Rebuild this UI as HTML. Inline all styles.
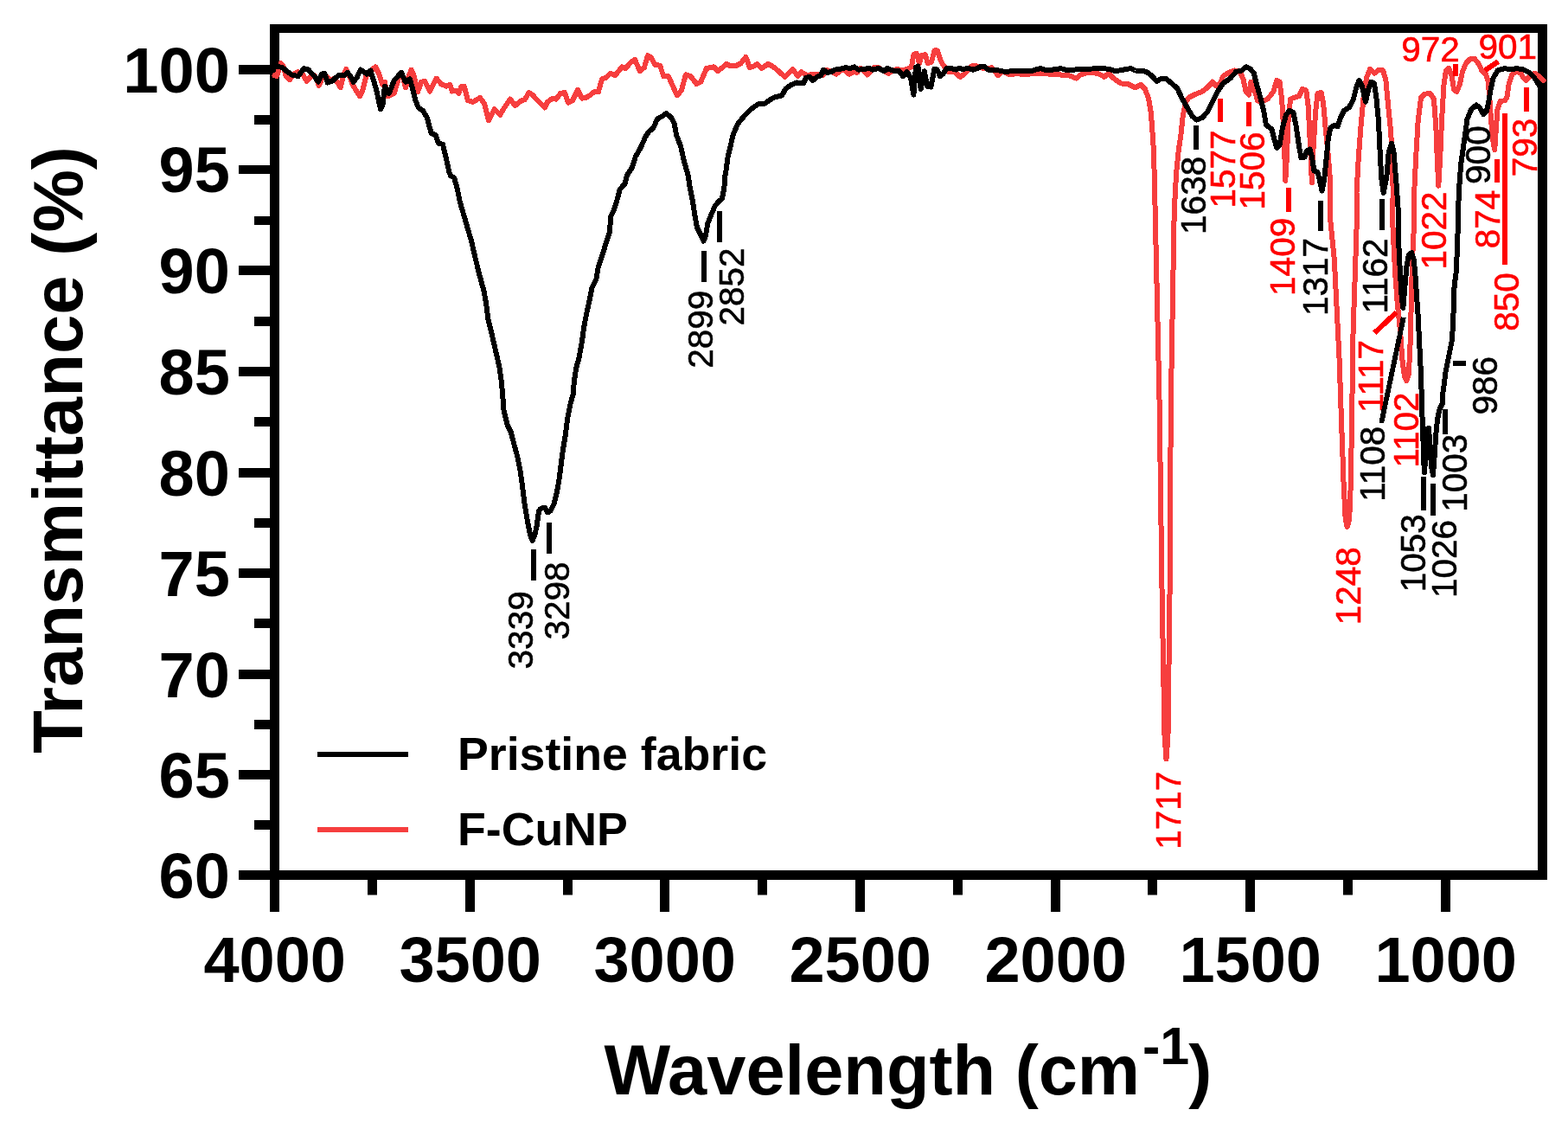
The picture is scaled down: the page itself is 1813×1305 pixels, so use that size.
<!DOCTYPE html>
<html><head><meta charset="utf-8"><title>FTIR</title>
<style>html,body{margin:0;padding:0;background:#fff}svg{display:block}text{font-family:"Liberation Sans",Arial,sans-serif}.b{font-weight:bold}</style></head><body>
<svg width="1813" height="1305" viewBox="0 0 1813 1305">
<rect width="1813" height="1305" fill="#fff"/>
<path d="M312 28H1789V1017H312Z M323 38V1006H1778V38Z" fill="#000" fill-rule="evenodd"/>
<line x1="276" x2="313" y1="1011.5" y2="1011.5" stroke="#000" stroke-width="11"/>
<text class="b" x="265.8" y="1037.9" font-size="74" text-anchor="end">60</text>
<line x1="276" x2="313" y1="895.5" y2="895.5" stroke="#000" stroke-width="11"/>
<text class="b" x="265.8" y="921.9" font-size="74" text-anchor="end">65</text>
<line x1="276" x2="313" y1="779.5" y2="779.5" stroke="#000" stroke-width="11"/>
<text class="b" x="265.8" y="805.9" font-size="74" text-anchor="end">70</text>
<line x1="276" x2="313" y1="662.5" y2="662.5" stroke="#000" stroke-width="11"/>
<text class="b" x="265.8" y="688.9" font-size="74" text-anchor="end">75</text>
<line x1="276" x2="313" y1="546.5" y2="546.5" stroke="#000" stroke-width="11"/>
<text class="b" x="265.8" y="572.9" font-size="74" text-anchor="end">80</text>
<line x1="276" x2="313" y1="429.5" y2="429.5" stroke="#000" stroke-width="11"/>
<text class="b" x="265.8" y="455.9" font-size="74" text-anchor="end">85</text>
<line x1="276" x2="313" y1="312.5" y2="312.5" stroke="#000" stroke-width="11"/>
<text class="b" x="265.8" y="338.9" font-size="74" text-anchor="end">90</text>
<line x1="276" x2="313" y1="196.0" y2="196.0" stroke="#000" stroke-width="10"/>
<text class="b" x="265.8" y="222.4" font-size="74" text-anchor="end">95</text>
<line x1="276" x2="313" y1="80.5" y2="80.5" stroke="#000" stroke-width="11"/>
<text class="b" x="265.8" y="106.9" font-size="74" text-anchor="end">100</text>
<line x1="294" x2="313" y1="953.5" y2="953.5" stroke="#000" stroke-width="11"/>
<line x1="294" x2="313" y1="837.5" y2="837.5" stroke="#000" stroke-width="11"/>
<line x1="294" x2="313" y1="720.5" y2="720.5" stroke="#000" stroke-width="11"/>
<line x1="294" x2="313" y1="604.5" y2="604.5" stroke="#000" stroke-width="11"/>
<line x1="294" x2="313" y1="487.5" y2="487.5" stroke="#000" stroke-width="11"/>
<line x1="294" x2="313" y1="371.5" y2="371.5" stroke="#000" stroke-width="11"/>
<line x1="294" x2="313" y1="255.0" y2="255.0" stroke="#000" stroke-width="10"/>
<line x1="294" x2="313" y1="138.5" y2="138.5" stroke="#000" stroke-width="11"/>
<line x1="317.5" x2="317.5" y1="1016" y2="1054" stroke="#000" stroke-width="11"/>
<text class="b" x="317.7" y="1134.8" font-size="74" text-anchor="middle">4000</text>
<line x1="543.5" x2="543.5" y1="1016" y2="1054" stroke="#000" stroke-width="11"/>
<text class="b" x="543.7" y="1134.8" font-size="74" text-anchor="middle">3500</text>
<line x1="768.5" x2="768.5" y1="1016" y2="1054" stroke="#000" stroke-width="11"/>
<text class="b" x="768.7" y="1134.8" font-size="74" text-anchor="middle">3000</text>
<line x1="994.5" x2="994.5" y1="1016" y2="1054" stroke="#000" stroke-width="11"/>
<text class="b" x="994.7" y="1134.8" font-size="74" text-anchor="middle">2500</text>
<line x1="1220.5" x2="1220.5" y1="1016" y2="1054" stroke="#000" stroke-width="11"/>
<text class="b" x="1220.7" y="1134.8" font-size="74" text-anchor="middle">2000</text>
<line x1="1445.5" x2="1445.5" y1="1016" y2="1054" stroke="#000" stroke-width="11"/>
<text class="b" x="1445.7" y="1134.8" font-size="74" text-anchor="middle">1500</text>
<line x1="1671.5" x2="1671.5" y1="1016" y2="1054" stroke="#000" stroke-width="11"/>
<text class="b" x="1671.7" y="1134.8" font-size="74" text-anchor="middle">1000</text>
<line x1="430.5" x2="430.5" y1="1016" y2="1034.5" stroke="#000" stroke-width="11"/>
<line x1="656.5" x2="656.5" y1="1016" y2="1034.5" stroke="#000" stroke-width="11"/>
<line x1="881.5" x2="881.5" y1="1016" y2="1034.5" stroke="#000" stroke-width="11"/>
<line x1="1107.5" x2="1107.5" y1="1016" y2="1034.5" stroke="#000" stroke-width="11"/>
<line x1="1332.5" x2="1332.5" y1="1016" y2="1034.5" stroke="#000" stroke-width="11"/>
<line x1="1558.5" x2="1558.5" y1="1016" y2="1034.5" stroke="#000" stroke-width="11"/>
<path d="M317.5 87.3 L319.9 88.1 L324.9 73.2 L327.4 76.5 L330.7 88.1 L334.8 92.2 L339.8 85.6 L344.8 83.1 L349.7 85.6 L354.7 93.9 L359.7 88.1 L363.8 87.3 L368.8 98.8 L372.9 89.7 L377.9 88.9 L382.0 93.0 L386.2 90.6 L391.1 96.4 L393.6 101.3 L396.9 88.1 L400.2 79.8 L403.5 86.4 L407.7 98.0 L416.0 111.3 L419.3 104.6 L423.4 88.1 L429.2 81.5 L434.2 77.3 L438.3 85.6 L442.5 98.0 L444.9 94.7 L448.2 111.3 L455.7 107.9 L460.7 91.4 L464.0 83.9 L466.5 91.4 L468.9 101.3 L473.1 86.4 L475.6 80.6 L478.9 88.1 L483.0 106.3 L487.2 94.7 L491.3 93.9 L497.1 105.5 L504.5 90.6 L510.3 97.2 L516.1 99.7 L520.3 98.0 L522.7 105.5 L526.9 104.6 L530.2 107.9 L533.5 99.7 L536.8 99.7 L541.0 116.2 L546.8 117.9 L555.0 112.9 L560.0 119.5 L565.0 139.4 L571.6 126.2 L578.2 132.8 L583.2 124.5 L589.8 114.6 L595.6 122.0 L603.0 116.2 L606.6 115.4 L611.6 107.1 L615.7 109.6 L619.9 114.6 L624.8 119.5 L629.8 124.5 L633.1 117.9 L638.9 113.7 L643.0 114.6 L648.0 107.9 L653.0 107.1 L657.1 118.7 L662.1 116.2 L667.9 103.8 L672.8 113.7 L677.8 112.9 L682.8 109.6 L686.9 106.3 L691.9 106.3 L696.0 91.4 L701.0 89.7 L706.0 84.8 L710.9 87.3 L715.9 81.5 L719.2 77.3 L723.3 79.0 L729.1 72.4 L734.1 69.0 L739.9 82.3 L744.9 78.1 L749.0 64.1 L753.1 66.6 L757.3 74.8 L763.1 75.7 L767.2 88.1 L773.0 88.1 L778.0 99.7 L782.9 110.4 L787.9 104.6 L792.9 86.4 L798.7 88.1 L805.3 97.2 L810.3 94.7 L816.9 79.0 L825.2 77.3 L830.1 82.3 L835.1 78.1 L840.1 74.0 L845.0 76.5 L851.7 75.7 L856.6 73.2 L862.4 65.7 L866.6 78.1 L871.5 76.5 L875.7 74.0 L880.6 79.0 L888.1 74.0 L893.0 76.5 L895.0 78.1 L896.6 79.0 L907.4 88.9 L916.5 79.8 L922.3 88.1 L926.4 83.1 L933.0 87.3 L939.7 85.6 L946.3 85.6 L951.3 87.3 L954.6 80.6 L959.5 82.3 L967.0 85.6 L972.8 80.6 L976.9 81.5 L981.9 85.6 L986.9 83.1 L991.0 83.9 L995.1 79.0 L999.3 82.3 L1002.6 86.4 L1005.9 83.9 L1010.9 78.1 L1015.8 78.1 L1022.5 82.3 L1027.4 84.8 L1032.4 81.5 L1037.4 79.8 L1044.0 81.5 L1048.9 79.8 L1053.9 77.3 L1056.4 63.2 L1059.7 61.6 L1063.0 73.2 L1065.5 64.1 L1069.6 63.2 L1072.9 73.2 L1077.1 71.5 L1080.4 58.3 L1083.7 58.3 L1087.0 68.2 L1090.3 74.8 L1097.0 83.1 L1103.6 83.1 L1110.2 88.9 L1116.0 84.8 L1120.1 79.0 L1125.1 75.7 L1130.1 76.5 L1136.7 79.0 L1143.3 79.0 L1146.6 78.1 L1154.1 87.3 L1159.0 82.3 L1168.1 86.4 L1176.4 84.8 L1180.0 85.6 L1189.9 85.6 L1198.2 84.8 L1204.8 84.8 L1213.1 85.6 L1223.0 85.6 L1229.7 87.3 L1236.3 87.3 L1244.6 90.6 L1249.5 86.4 L1257.8 83.9 L1264.4 83.9 L1271.1 85.6 L1276.9 88.9 L1281.8 84.8 L1287.6 90.6 L1295.9 96.4 L1304.2 97.2 L1312.5 101.3 L1319.1 98.0 L1324.0 103.0 L1328.2 114.6 L1330.7 129.5 L1332.3 149.3 L1334.0 175.8 L1335.0 215.0 L1335.8 250.0 L1340.6 466.0 L1343.5 680.0 L1346.5 850.0 L1348.5 877.5 L1350.5 850.0 L1352.6 680.0 L1353.8 466.0 L1357.5 256.0 L1358.8 222.1 L1360.4 197.3 L1362.9 172.5 L1365.4 155.9 L1367.9 132.7 L1371.2 117.8 L1374.5 112.8 L1382.8 108.7 L1389.4 106.2 L1396.0 101.3 L1401.8 94.6 L1406.8 99.6 L1410.9 96.3 L1414.2 88.0 L1420.9 83.9 L1427.5 81.4 L1434.1 83.9 L1437.4 91.3 L1440.7 106.2 L1444.0 109.5 L1446.5 94.6 L1449.8 101.3 L1454.0 116.2 L1458.9 117.8 L1465.6 114.5 L1472.2 106.2 L1476.3 93.0 L1479.6 94.6 L1482.1 114.5 L1484.6 155.9 L1486.3 208.9 L1487.9 180.7 L1489.6 139.3 L1492.1 114.5 L1497.0 112.8 L1502.0 111.2 L1506.1 102.9 L1510.3 104.6 L1512.7 122.8 L1515.2 172.5 L1516.9 211.4 L1518.5 172.5 L1521.0 131.1 L1523.5 107.9 L1527.6 107.1 L1530.1 119.5 L1532.6 147.6 L1535.9 180.7 L1538.4 213.8 L1537.8 250.0 L1542.8 299.7 L1546.1 365.9 L1548.6 415.6 L1550.3 466.0 L1553.6 559.3 L1555.7 600.7 L1557.7 609.0 L1560.2 600.7 L1561.8 559.3 L1563.4 466.0 L1564.1 399.0 L1565.7 349.3 L1567.4 299.7 L1569.0 250.0 L1568.5 222.1 L1570.9 180.7 L1573.4 147.6 L1576.7 111.2 L1580.1 89.7 L1584.2 79.7 L1589.2 84.7 L1594.1 80.6 L1599.1 81.4 L1602.4 93.0 L1604.9 119.5 L1608.2 152.6 L1609.9 189.0 L1610.7 222.1 L1609.9 250.0 L1611.5 283.1 L1613.2 316.2 L1615.6 349.3 L1619.0 382.5 L1621.4 415.6 L1623.9 435.4 L1626.4 440.4 L1628.9 432.1 L1630.5 399.0 L1631.4 365.9 L1632.2 332.8 L1633.0 299.7 L1634.7 266.6 L1635.2 222.1 L1637.2 180.7 L1639.7 139.3 L1643.0 112.8 L1647.1 108.7 L1653.7 107.9 L1657.9 114.5 L1660.4 147.6 L1662.0 189.0 L1663.3 214.7 L1665.3 180.7 L1667.0 139.3 L1669.5 97.9 L1671.9 81.4 L1675.3 78.9 L1678.6 88.0 L1681.0 102.9 L1684.4 106.2 L1687.7 97.9 L1691.0 83.0 L1695.1 73.1 L1700.1 68.1 L1705.1 68.1 L1709.2 73.1 L1713.3 81.4 L1718.3 86.4 L1720.8 94.6 L1722.4 114.5 L1724.1 139.3 L1726.6 164.2 L1728.2 173.3 L1729.9 147.6 L1731.5 126.1 L1734.9 117.0 L1739.8 116.2 L1742.3 112.8 L1744.8 96.3 L1748.1 86.4 L1752.2 83.0 L1758.0 83.9 L1761.3 89.7 L1764.7 93.0 L1768.8 88.0 L1774.6 84.7 L1781.2 89.7 L1784.5 93.0" fill="none" stroke="#f63e3e" stroke-width="6" stroke-linejoin="round" stroke-linecap="round" shape-rendering="crispEdges"/>
<path d="M319.9 76.5 L326.6 78.1 L331.5 82.3 L337.3 86.4 L344.8 88.1 L351.4 79.0 L356.4 80.6 L363.0 87.3 L367.9 94.7 L372.1 85.6 L375.4 85.1 L378.7 95.5 L384.5 93.4 L391.1 87.3 L397.7 87.3 L401.9 83.9 L405.2 88.1 L408.5 94.7 L412.6 89.7 L416.8 80.6 L420.9 83.1 L424.2 85.6 L428.4 81.5 L430.9 89.7 L435.0 103.0 L440.0 126.2 L442.5 121.2 L444.9 99.7 L449.9 107.9 L455.7 93.0 L464.0 83.9 L468.9 94.7 L473.9 91.4 L477.2 103.0 L480.5 116.2 L483.8 124.5 L488.8 127.8 L493.8 136.1 L498.7 154.3 L503.7 156.0 L507.0 165.9 L512.0 166.7 L515.3 180.8 L519.4 199.0 L521.1 203.1 L525.2 205.6 L528.5 217.2 L531.9 233.8 L536.8 250.3 L541.0 265.2 L544.5 276.4 L549.5 297.9 L554.4 317.8 L559.4 336.0 L561.9 349.3 L564.4 369.1 L569.3 389.0 L573.5 407.2 L577.6 425.4 L580.1 443.6 L580.6 450.0 L582.6 474.8 L586.7 491.4 L590.9 499.7 L594.2 512.9 L598.3 527.8 L601.6 544.4 L604.1 562.6 L606.6 582.5 L609.9 602.3 L613.2 618.9 L615.7 624.7 L618.2 618.9 L620.7 607.3 L623.1 590.7 L624.8 588.2 L629.8 586.6 L633.1 592.4 L636.4 590.7 L640.5 582.5 L643.8 569.2 L646.3 556.0 L648.0 542.7 L650.5 522.8 L653.8 503.0 L656.3 483.1 L659.6 466.6 L662.9 455.0 L663.7 442.0 L666.2 425.4 L669.5 413.8 L672.8 395.6 L675.3 377.4 L678.9 359.2 L681.9 346.0 L684.4 332.7 L689.4 322.8 L691.9 307.9 L696.0 296.3 L700.1 283.0 L705.1 268.1 L706.0 250.3 L710.1 242.1 L714.2 228.8 L716.7 218.9 L722.5 212.3 L725.0 202.3 L730.8 194.0 L734.9 180.8 L740.7 170.9 L746.5 157.6 L750.7 151.8 L755.6 147.7 L759.8 137.7 L765.6 134.4 L770.5 131.1 L776.3 136.1 L779.6 142.7 L782.1 156.0 L787.1 169.2 L790.4 184.1 L795.4 202.3 L795.2 200.0 L797.7 216.6 L801.0 233.1 L803.5 249.7 L806.0 262.9 L810.1 271.2 L813.4 278.6 L815.9 272.8 L818.4 257.9 L821.7 249.7 L826.7 238.1 L830.8 233.1 L834.9 229.8 L837.4 216.6 L838.7 200.0 L839.2 199.0 L841.7 180.8 L844.2 170.9 L847.5 156.0 L853.3 142.7 L861.6 132.8 L868.2 126.2 L876.5 120.4 L884.8 119.5 L891.4 114.6 L896.6 112.1 L904.1 110.4 L908.2 103.0 L914.8 98.0 L921.5 95.5 L928.9 96.4 L932.2 89.7 L936.4 88.9 L939.7 93.0 L944.6 88.9 L948.8 87.3 L952.1 80.6 L956.2 83.9 L961.2 83.1 L965.3 80.6 L971.1 79.8 L977.7 78.1 L982.7 79.0 L987.7 77.3 L992.6 80.6 L999.3 80.1 L1004.2 78.5 L1009.2 80.6 L1015.8 79.0 L1022.5 82.3 L1025.8 79.0 L1032.4 81.5 L1039.0 81.5 L1044.0 88.1 L1048.9 83.1 L1053.1 90.6 L1056.4 109.6 L1058.9 78.1 L1061.4 76.5 L1064.7 103.0 L1068.8 82.3 L1072.1 99.7 L1076.3 100.5 L1080.4 79.8 L1083.7 80.6 L1087.0 88.1 L1090.3 85.6 L1094.5 79.0 L1100.3 79.0 L1105.2 80.6 L1108.5 79.0 L1113.5 79.8 L1120.1 79.0 L1125.1 80.6 L1130.1 79.0 L1135.0 76.5 L1138.3 76.8 L1142.5 80.6 L1148.3 80.6 L1154.9 81.5 L1163.2 83.1 L1171.5 81.8 L1181.4 82.3 L1191.6 82.3 L1203.2 79.0 L1209.8 81.5 L1223.0 79.8 L1226.4 79.0 L1234.6 81.5 L1249.5 79.8 L1262.8 79.5 L1272.7 79.0 L1282.6 79.8 L1289.3 82.3 L1299.2 80.6 L1307.5 79.0 L1312.5 81.5 L1320.7 81.5 L1325.7 83.1 L1332.3 88.1 L1337.3 93.9 L1343.1 90.6 L1348.9 91.4 L1354.6 96.3 L1361.3 102.1 L1366.2 112.8 L1372.8 124.4 L1378.6 134.4 L1383.6 138.5 L1390.2 136.0 L1396.0 129.4 L1401.8 117.8 L1407.6 106.2 L1414.2 96.3 L1422.5 90.5 L1429.1 83.0 L1435.8 81.4 L1440.7 77.3 L1445.7 79.7 L1449.8 84.7 L1453.1 97.9 L1457.3 112.8 L1461.4 129.4 L1463.9 144.3 L1470.5 149.3 L1473.8 162.5 L1476.3 170.8 L1479.6 167.5 L1482.9 147.6 L1487.1 132.7 L1491.2 127.7 L1495.4 130.2 L1498.7 146.0 L1502.0 169.1 L1504.5 182.4 L1508.6 181.6 L1511.1 174.1 L1514.4 172.5 L1516.9 180.7 L1519.4 197.3 L1523.5 198.9 L1526.0 208.9 L1528.5 220.5 L1531.0 208.9 L1533.4 185.7 L1535.9 159.2 L1538.4 147.6 L1542.5 145.1 L1546.7 146.0 L1550.0 136.0 L1554.1 127.7 L1559.9 124.4 L1564.9 114.5 L1568.2 101.3 L1571.5 93.0 L1574.8 99.6 L1579.0 117.8 L1582.3 102.9 L1585.6 94.6 L1588.9 96.3 L1591.4 112.8 L1593.9 139.3 L1595.5 172.5 L1597.2 205.6 L1599.7 222.9 L1603.2 205.6 L1605.7 175.8 L1609.0 165.8 L1611.5 175.8 L1614.0 205.6 L1616.5 238.7 L1617.3 283.1 L1619.0 316.2 L1620.6 342.7 L1622.3 356.0 L1624.3 332.8 L1626.4 307.9 L1628.9 294.7 L1632.2 292.2 L1634.7 299.7 L1636.3 316.2 L1638.0 341.1 L1639.7 365.9 L1641.3 399.0 L1643.0 432.1 L1643.8 460.0 L1644.6 484.8 L1645.5 509.7 L1646.3 534.5 L1647.1 546.1 L1648.8 517.9 L1650.4 495.6 L1652.1 494.8 L1653.4 517.9 L1655.1 539.5 L1657.0 549.4 L1658.7 526.2 L1660.4 501.4 L1662.0 484.8 L1664.5 473.2 L1667.8 466.6 L1667.6 460.0 L1669.6 445.0 L1671.6 429.6 L1675.6 409.7 L1678.5 395.0 L1679.6 382.0 L1680.6 359.9 L1681.6 330.0 L1683.5 316.2 L1685.2 283.1 L1686.0 250.0 L1686.8 222.1 L1689.3 189.0 L1692.7 165.0 L1696.5 137.7 L1701.3 126.2 L1707.0 121.4 L1710.9 124.3 L1715.2 132.0 L1719.0 128.1 L1721.4 116.6 L1723.8 102.3 L1726.7 89.8 L1731.5 81.7 L1735.8 79.8 L1740.6 79.3 L1748.2 80.4 L1753.0 79.1 L1760.7 80.2 L1768.4 84.1 L1774.1 89.8 L1778.4 96.5 L1781.3 102.3" fill="none" stroke="#000" stroke-width="6" stroke-linejoin="round" stroke-linecap="round" shape-rendering="crispEdges"/>
<text class="b" x="698.5" y="1264.7" font-size="81.2" id="xt">Wavelength (cm<tspan font-size="61" dy="-34.7" dx="3">-1</tspan><tspan dy="34.7" dx="-1">)</tspan></text>
<text class="b" transform="translate(95.4 871) rotate(-90)" font-size="81.5" id="yt">Transmittance (%)</text>
<line x1="367" x2="472" y1="872" y2="872" stroke="#000" stroke-width="6"/>
<line x1="367" x2="472" y1="959" y2="959" stroke="#f63e3e" stroke-width="6"/>
<text class="b" x="529" y="890.4" font-size="53.7">Pristine fabric</text>
<text class="b" x="529" y="976.9" font-size="53.7">F-CuNP</text>
<text transform="translate(616.4 773.4) rotate(-90)" font-size="40.5" fill="#000" stroke="#000" stroke-width="0.6">3339</text>
<text transform="translate(657.5 739.5) rotate(-90)" font-size="40.5" fill="#000" stroke="#000" stroke-width="0.6">3298</text>
<text transform="translate(824.1 425.7) rotate(-90)" font-size="40.5" fill="#000" stroke="#000" stroke-width="0.6">2899</text>
<text transform="translate(860.2 376.6) rotate(-90)" font-size="40.5" fill="#000" stroke="#000" stroke-width="0.6">2852</text>
<text transform="translate(1394.4 270.9) rotate(-90)" font-size="40.5" fill="#000" stroke="#000" stroke-width="0.6">1638</text>
<text transform="translate(1427.9 240.6) rotate(-90)" font-size="40.5" fill="#ff0000" stroke="#ff0000" stroke-width="0.6">1577</text>
<text transform="translate(1461.9 242.5) rotate(-90)" font-size="40.5" fill="#ff0000" stroke="#ff0000" stroke-width="0.6">1506</text>
<text transform="translate(1497.4 341.9) rotate(-90)" font-size="40.5" fill="#ff0000" stroke="#ff0000" stroke-width="0.6">1409</text>
<text transform="translate(1534.7 365.0) rotate(-90)" font-size="40.5" fill="#000" stroke="#000" stroke-width="0.6">1317</text>
<text transform="translate(1603.7 362.5) rotate(-90)" font-size="40.5" fill="#000" stroke="#000" stroke-width="0.6">1162</text>
<text transform="translate(1598.5 477.1) rotate(-90)" font-size="40.5" fill="#ff0000" stroke="#ff0000" stroke-width="0.6">1117</text>
<text transform="translate(1601.2 579.8) rotate(-90)" font-size="40.5" fill="#000" stroke="#000" stroke-width="0.6">1108</text>
<text transform="translate(1640.1 540.6) rotate(-90)" font-size="40.5" fill="#ff0000" stroke="#ff0000" stroke-width="0.6">1102</text>
<text transform="translate(1573.0 722.2) rotate(-90)" font-size="40.5" fill="#ff0000" stroke="#ff0000" stroke-width="0.6">1248</text>
<text transform="translate(1648.4 684.2) rotate(-90)" font-size="40.5" fill="#000" stroke="#000" stroke-width="0.6">1053</text>
<text transform="translate(1684.0 691.0) rotate(-90)" font-size="40.5" fill="#000" stroke="#000" stroke-width="0.6">1026</text>
<text transform="translate(1695.6 591.7) rotate(-90)" font-size="40.5" fill="#000" stroke="#000" stroke-width="0.6">1003</text>
<text transform="translate(1731.1 479.5) rotate(-90)" font-size="40.5" fill="#000" stroke="#000" stroke-width="0.6">986</text>
<text transform="translate(1672.4 311.5) rotate(-90)" font-size="40.5" fill="#ff0000" stroke="#ff0000" stroke-width="0.6">1022</text>
<text transform="translate(1722.9 212.9) rotate(-90)" font-size="40.5" fill="#000" stroke="#000" stroke-width="0.6">900</text>
<text transform="translate(1733.6 287.2) rotate(-90)" font-size="40.5" fill="#ff0000" stroke="#ff0000" stroke-width="0.6">874</text>
<text transform="translate(1756.0 382.7) rotate(-90)" font-size="40.5" fill="#ff0000" stroke="#ff0000" stroke-width="0.6">850</text>
<text transform="translate(1776.7 204.3) rotate(-90)" font-size="40.5" fill="#ff0000" stroke="#ff0000" stroke-width="0.6">793</text>
<text transform="translate(1364.5 981.8) rotate(-90)" font-size="40.5" fill="#ff0000" stroke="#ff0000" stroke-width="0.6">1717</text>
<text x="1620.3" y="70.7" font-size="40.5" fill="#ff0000" stroke="#ff0000" stroke-width="0.6">972</text>
<text x="1709.5" y="68.2" font-size="40.5" fill="#ff0000" stroke="#ff0000" stroke-width="0.6">901</text>
<line x1="617.1" y1="635.1" x2="617.1" y2="671.0" stroke="#000" stroke-width="6" shape-rendering="crispEdges"/>
<line x1="635.1" y1="604.0" x2="635.1" y2="639.8" stroke="#000" stroke-width="6" shape-rendering="crispEdges"/>
<line x1="813.9" y1="290.2" x2="813.9" y2="325.8" stroke="#000" stroke-width="6" shape-rendering="crispEdges"/>
<line x1="832.0" y1="244.4" x2="832.0" y2="279.5" stroke="#000" stroke-width="6" shape-rendering="crispEdges"/>
<line x1="1383.3" y1="145.2" x2="1383.3" y2="172.5" stroke="#000" stroke-width="6" shape-rendering="crispEdges"/>
<line x1="1411.0" y1="114.2" x2="1411.0" y2="141.4" stroke="#ff0000" stroke-width="6" shape-rendering="crispEdges"/>
<line x1="1444.1" y1="118.2" x2="1444.1" y2="145.7" stroke="#ff0000" stroke-width="6" shape-rendering="crispEdges"/>
<line x1="1489.6" y1="217.2" x2="1489.6" y2="244.5" stroke="#ff0000" stroke-width="6" shape-rendering="crispEdges"/>
<line x1="1527.2" y1="232.0" x2="1527.2" y2="267.4" stroke="#000" stroke-width="6" shape-rendering="crispEdges"/>
<line x1="1598.0" y1="230.4" x2="1598.0" y2="265.7" stroke="#000" stroke-width="6" shape-rendering="crispEdges"/>
<line x1="1589.2" y1="384.9" x2="1614.8" y2="360.9" stroke="#ff0000" stroke-width="6" shape-rendering="crispEdges"/>
<line x1="1622.8" y1="366.9" x2="1597.2" y2="489.0" stroke="#000" stroke-width="5.8" shape-rendering="crispEdges"/>
<line x1="1646.3" y1="551.1" x2="1646.3" y2="590.0" stroke="#000" stroke-width="6" shape-rendering="crispEdges"/>
<line x1="1657.0" y1="558.5" x2="1657.0" y2="595.8" stroke="#000" stroke-width="6" shape-rendering="crispEdges"/>
<line x1="1671.1" y1="473.2" x2="1671.1" y2="502.2" stroke="#000" stroke-width="5.4" shape-rendering="crispEdges"/>
<line x1="1680.2" y1="419.7" x2="1695.1" y2="419.7" stroke="#000" stroke-width="6" shape-rendering="crispEdges"/>
<line x1="1683.0" y1="74.0" x2="1683.0" y2="88.0" stroke="#ff0000" stroke-width="6" shape-rendering="crispEdges"/>
<line x1="1717.0" y1="81.4" x2="1732.5" y2="71.0" stroke="#ff0000" stroke-width="6" shape-rendering="crispEdges"/>
<line x1="1730.7" y1="184.0" x2="1730.7" y2="211.4" stroke="#ff0000" stroke-width="6" shape-rendering="crispEdges"/>
<line x1="1740.0" y1="131.0" x2="1740.0" y2="305.5" stroke="#ff0000" stroke-width="6" shape-rendering="crispEdges"/>
<line x1="1765.0" y1="101.3" x2="1765.0" y2="128.7" stroke="#ff0000" stroke-width="6" shape-rendering="crispEdges"/>
</svg></body></html>
